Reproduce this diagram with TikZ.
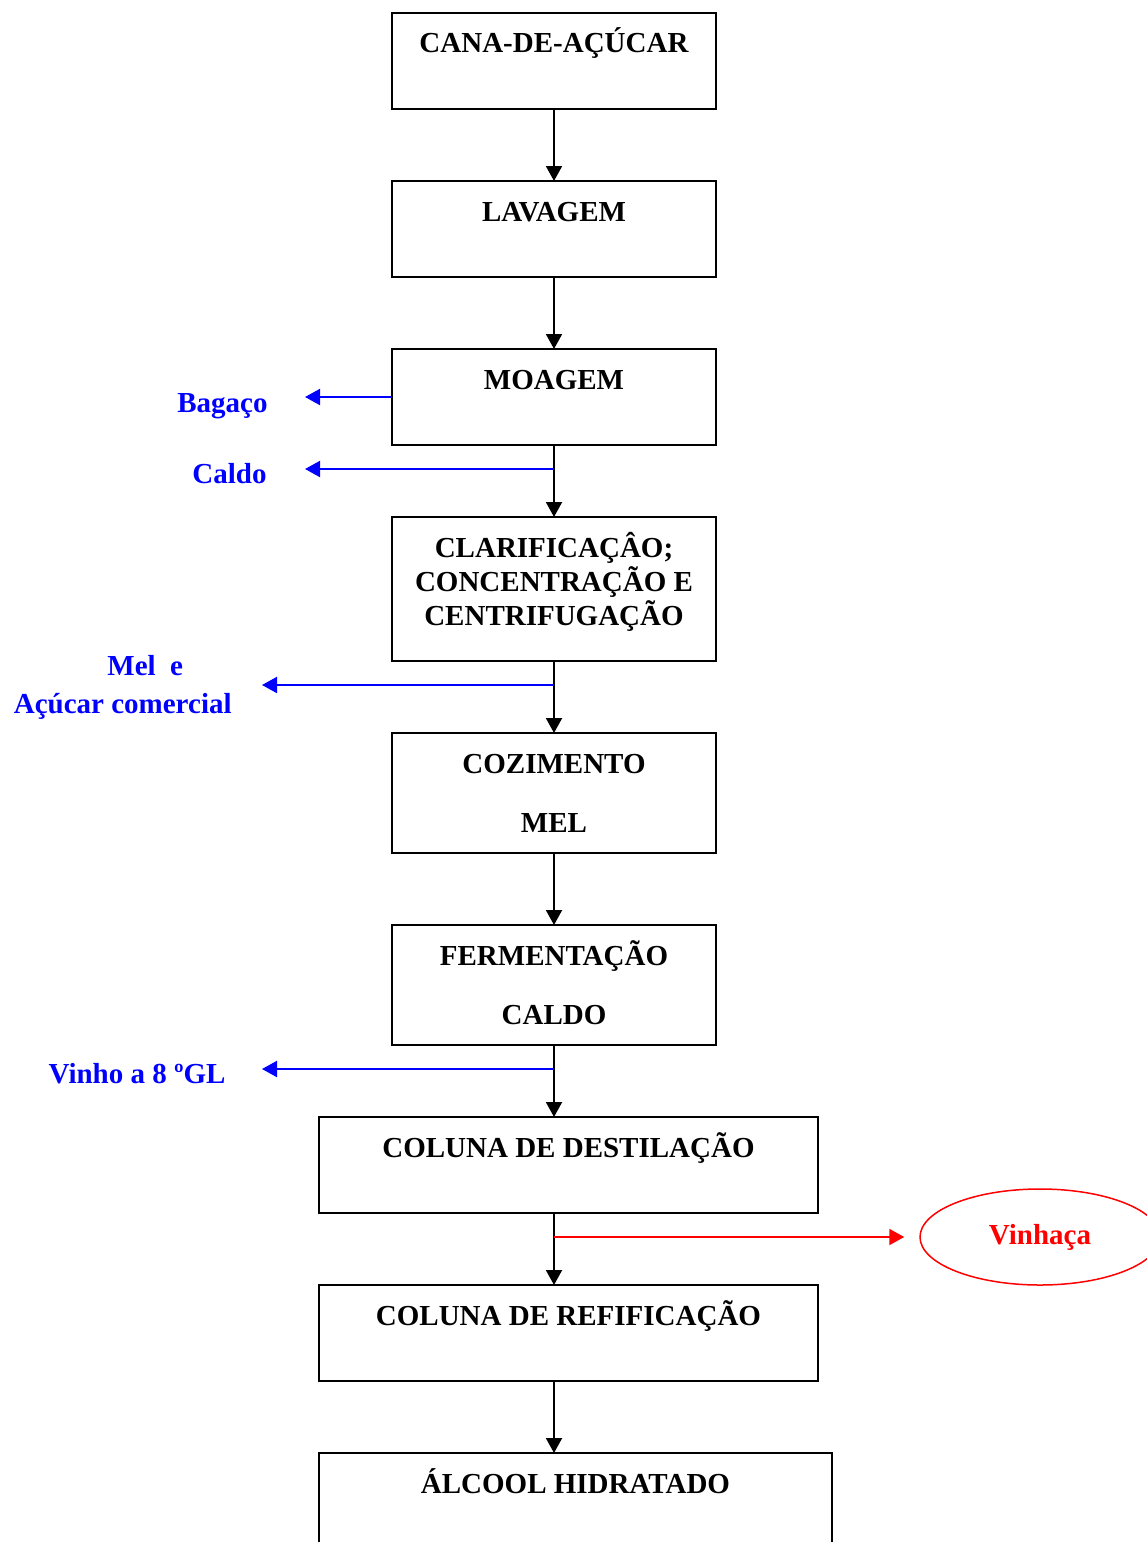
\documentclass[tikz,border=0pt]{standalone}
\usepackage{fontspec}
\setmainfont{Liberation Serif}
\usepackage{tikz}
\usetikzlibrary{arrows.meta,positioning,shapes.geometric}

\begin{document}
\begin{tikzpicture}[
    x=0.5pt, y=-0.5pt,
    box/.style={draw, rectangle, line width=1pt, inner sep=0pt, outer sep=0pt, minimum width=162pt, minimum height=48pt},
    wbox/.style={box, minimum width=249.5pt},
    txt/.style={anchor=base, align=center, inner sep=0pt, font=\fontsize{14.5pt}{17pt}\selectfont\bfseries},
    side/.style={txt, anchor=base east, text=blue},
    arr/.style={-{Triangle[length=7.5pt,width=8pt]}, line width=1pt},
    sarr/.style={arr, color=blue},
    rarr/.style={arr, color=red, shorten >=7.5pt}
  ]
    \useasboundingbox (0,0) rectangle (1146,1542);
    \node[box] (b1) at (554,61) {};
    \node[box, below=36pt of b1] (b2) {};
    \node[box, below=36pt of b2] (b3) {};
    \node[box, below=36pt of b3, minimum height=72pt] (b4) {};
    \node[box, below=36pt of b4, minimum height=60pt] (b5) {};
    \node[box, below=36pt of b5, minimum height=60pt] (b6) {};
    \node[wbox, below=36pt of b6, xshift=7.25pt] (b7) {};
    \node[wbox, below=36pt of b7] (b8) {};
    \node[wbox, below=36pt of b8, xshift=3.5pt, minimum width=256.5pt] (b9) {};
    \node[txt] (t1) at ([yshift=-20pt]b1.north) {CANA-DE-AÇÚCAR};
    \node[txt] (t2) at ([yshift=-20pt]b2.north) {LAVAGEM};
    \node[txt] (t3) at ([yshift=-20pt]b3.north) {MOAGEM};
    \node[txt] (t4) at ([yshift=-54pt]b4.north) {CLARIFICAÇÂO;\\CONCENTRAÇÃO E\\CENTRIFUGAÇÃO};
    \node[txt] (t5) at ([yshift=-49.5pt]b5.north) {COZIMENTO\\[12.5pt]MEL};
    \node[txt] (t6) at ([yshift=-49.5pt]b6.north) {FERMENTAÇÃO\\[12.5pt]CALDO};
    \node[txt] (t7) at ([yshift=-20pt]b7.north) {COLUNA DE DESTILAÇÃO};
    \node[txt] (t8) at ([yshift=-20pt]b8.north) {COLUNA DE REFIFICAÇÃO};
    \node[txt] (t9) at ([yshift=-20pt]b9.north) {ÁLCOOL HIDRATADO};
    \draw[arr] (b1) -- (b2);
    \draw[arr] (b2) -- (b3);
    \draw[arr] (b3) -- (b4);
    \draw[arr] (b4) -- (b5);
    \draw[arr] (b5) -- (b6);
    \draw[arr] (b6) -- (b6 |- b7.north);
    \draw[arr] (b6 |- b7.south) -- (b6 |- b8.north);
    \draw[arr] (b6 |- b8.south) -- (b6 |- b9.north);
    \coordinate (jcaldo) at ([yshift=-12pt]b3.south);
    \coordinate (jmel) at ([yshift=-12pt]b4.south);
    \coordinate (jvinho) at ([yshift=-12pt]b6.south);
    \coordinate (jvinhaca) at ([yshift=-12pt]b6.south |- b7.south);
    \coordinate (bagend) at (305,0 |- b3.west);
    \coordinate (caldoend) at (305,0 |- jcaldo);
    \coordinate (melend) at (262,0 |- jmel);
    \coordinate (vinhoend) at (262,0 |- jvinho);
    \node[side] (bag) at ([xshift=-18.5pt,yshift=-7.5pt]bagend) {Bagaço};
    \node[side] (caldo) at ([xshift=-19pt,yshift=-7pt]caldoend) {Caldo};
    \node[side, font=\fontsize{14.5pt}{19pt}\selectfont\bfseries] (mel) at ([xshift=-15pt,yshift=-14pt]melend) {\hspace*{22.5pt}Mel\ \ e\\Açúcar comercial};
    \node[side] (vinho) at ([xshift=-18pt,yshift=-7pt]vinhoend) {Vinho a 8 ºGL};
    \node[draw=red, ellipse, line width=0.75pt, minimum width=120pt, minimum height=48pt, text=red, font=\fontsize{14.5pt}{17pt}\selectfont\bfseries] (vinhaca) at (1040,0 |- jvinhaca) {Vinhaça};
    \draw[sarr] (b3.west) -- (bagend);
    \draw[sarr] (jcaldo) -- (caldoend);
    \draw[sarr] (jmel) -- (melend);
    \draw[sarr] (jvinho) -- (vinhoend);
    \draw[rarr] (jvinhaca) -- (vinhaca.west);
  \end{tikzpicture}
\end{document}
